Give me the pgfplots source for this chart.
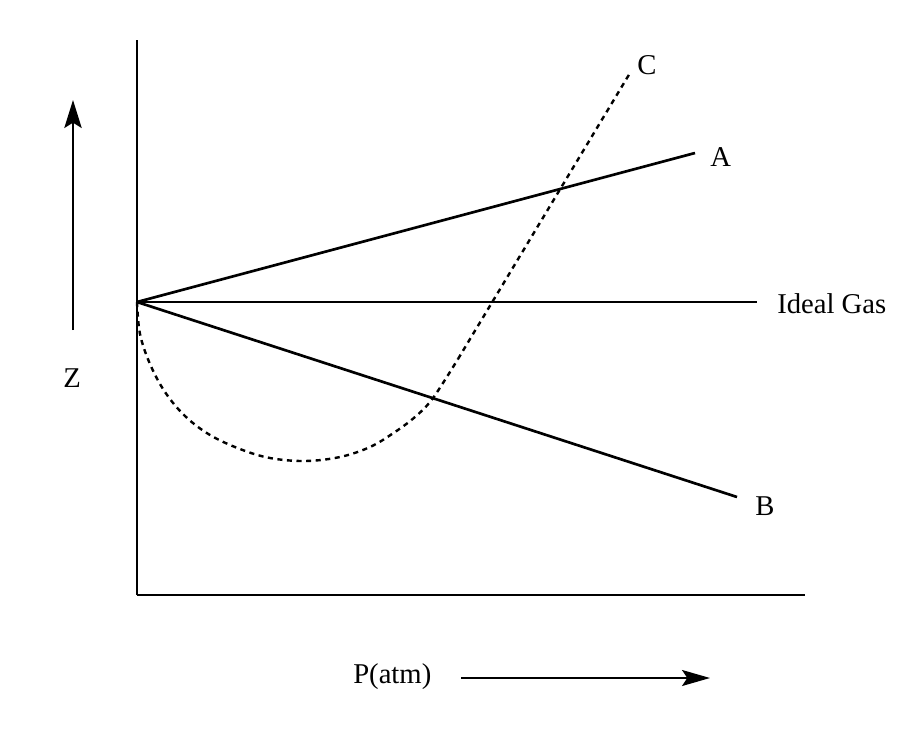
\documentclass[border=0pt]{standalone}
\usepackage{fontspec}
\setmainfont{Liberation Serif}
\usepackage{pgfplots}
\pgfplotsset{compat=1.18}
\usetikzlibrary{arrows.meta}
\newcommand{\lbl}{\fontsize{21.5}{26}\selectfont}
\begin{document}
\begin{tikzpicture}
\begin{axis}[
  scale only axis,
  width=501pt, height=416.25pt,
  xmin=137, xmax=805, ymin=134, ymax=689,
  axis lines*=left,
  axis line style={line width=1.5pt},
  xtick=\empty, ytick=\empty,
  clip=false,
]
% invisible bounding box (image 910x729 px)
\path (axis cs:0,0) rectangle (axis cs:910,729);
% Ideal gas
\addplot[black, line width=1.4pt] coordinates {(137,427) (757,427)};
% A
\addplot[black, line width=2pt] coordinates {(137,427) (695,576)};
% B
\addplot[black, line width=2pt] coordinates {(137,427) (737,232)};
% C
\addplot[black, line width=1.8pt, dash pattern=on 3.8pt off 3.4pt, smooth, tension=0.6] coordinates {
(137,427) (140,395) (150,365) (165,337) (185,313) (210,294) (240,280) (270,271)
(305,268) (340,272) (370,282) (395,297) (415,312) (430,327) (443,346) (458,370)};
\addplot[black, line width=1.8pt, dash pattern=on 3.8pt off 3.4pt] coordinates {(458,370) (630,656)};
% axis arrows
\addplot[black, line width=1.5pt, -{Stealth[length=21pt,width=13pt,inset=4pt]}] coordinates {(73,399) (73,629)};
\addplot[black, line width=1.5pt, -{Stealth[length=21pt,width=12pt,inset=4pt]}] coordinates {(461,51) (710,51)};
% labels
\node[anchor=base west, inner sep=0pt] at (axis cs:637,654) {\lbl C};
\node[anchor=base west, inner sep=0pt] at (axis cs:710,562) {\lbl A};
\node[anchor=base west, inner sep=0pt] at (axis cs:777,416) {\lbl Ideal Gas};
\node[anchor=base west, inner sep=0pt] at (axis cs:755,214) {\lbl B};
\node[anchor=base west, inner sep=0pt] at (axis cs:63,342) {\lbl Z};
\node[anchor=base west, inner sep=0pt] at (axis cs:353,46) {\lbl P(atm)};
\end{axis}
\end{tikzpicture}
\end{document}
